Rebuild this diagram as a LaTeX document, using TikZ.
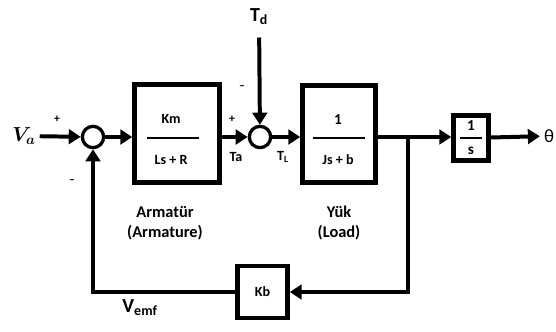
\documentclass[tikz,border=0pt]{standalone}
\usepackage{amsmath}
\usepackage{fontspec}
\setmainfont{Carlito}
\usetikzlibrary{positioning,calc,arrows.meta}

\begin{document}
\begin{tikzpicture}[x=0.03cm,y=-0.03cm,
  >={Triangle[length=3.6mm,width=4.4mm]},
  sig/.style={line width=3.4pt},
  sumnode/.style={circle,draw,line width=2.8pt,minimum size=6.4mm,inner sep=0pt},
  blk/.style={draw,line width=3.8pt,inner sep=0pt},
  bar/.style={line width=1.6pt},
  sgn/.style={font=\fontsize{10}{10}\selectfont\bfseries},
  lbl/.style={font=\fontsize{12}{14}\selectfont\bfseries},
  big/.style={font=\fontsize{17}{17}\selectfont\bfseries},
  captxt/.style={font=\fontsize{14}{17}\selectfont\bfseries,align=center}]
\useasboundingbox (0,0) rectangle (556,331);

% ---- blocks and junctions
\node[blk,minimum width=2.55cm,minimum height=2.94cm] (arm) at (177,133.5) {};
\node[blk,minimum width=2.19cm,minimum height=2.91cm] (load) at (339,134) {};
\node[blk,minimum width=1.05cm,minimum height=1.35cm] (integ) at (471,138) {};
\node[blk,minimum width=1.5cm,minimum height=1.56cm,lbl] (kb) at (262.5,292) {Kb};
\node[sumnode] (s1) at (93,137) {};
\node[sumnode] (s2) at (260,137) {};

% ---- transfer functions
\node[lbl] (km) at (171,119) {Km};
\node[lbl] (lsr) at (171,160) {Ls + R};
\draw[bar] (147,138) -- (199,138);
\node[lbl,font=\fontsize{13}{14}\selectfont\bfseries] (one) at (338,120) {1};
\node[lbl] (jsb) at (338,160) {Js + b};
\draw[bar] (313,138) -- (365,138);
\node[lbl,font=\fontsize{13}{14}\selectfont\bfseries] (ione) at (471,126) {1};
\node[lbl,font=\fontsize{13}{14}\selectfont\bfseries] (is) at (471,151) {s};
\draw[bar] (460,138) -- (482,138);

% ---- signals
\node[font=\fontsize{17}{17}\selectfont] (va) at (24,136) {$\boldsymbol{V_a}$};
\node[big] (td) at (259,17) {T\textsubscript{d}};
\node[font=\fontsize{16}{16}\selectfont] (theta) at (549,136) {θ};
\coordinate (br) at (408,137);
\draw[sig,->] (va) -- (s1);
\draw[sig,->] (s1) -- (s1 -| arm.west);
\draw[sig,->] (s1 -| arm.east) -- (s2);
\draw[sig,->,shorten <=2.5mm] (td) -- (s2);
\draw[sig,->] (s2) -- (s2 -| load.west);
\draw[sig] (s2 -| load.east) -- (br);
\draw[sig,->] (br) -- (br -| integ.west);
\draw[sig,->] (integ) -- (theta);
\draw[sig,->] (br) |- (kb);
\draw[sig,->] (kb) -| (s1);

% ---- signs and labels
\node[sgn] at (57,119) {+};
\node[sgn] at (72,182) {--};
\node[sgn] at (232,119) {+};
\node[sgn] at (242,88) {--};
\node[lbl] at (236,157) {Ta};
\node[lbl] at (283,157) {T\textsubscript{L}};
\node[big] at (140,308) {V\textsubscript{emf}};
\node[captxt] at (165,223) {Armatür\\(Armature)};
\node[captxt] at (339,223) {Yük\\(Load)};
\end{tikzpicture}
\end{document}
